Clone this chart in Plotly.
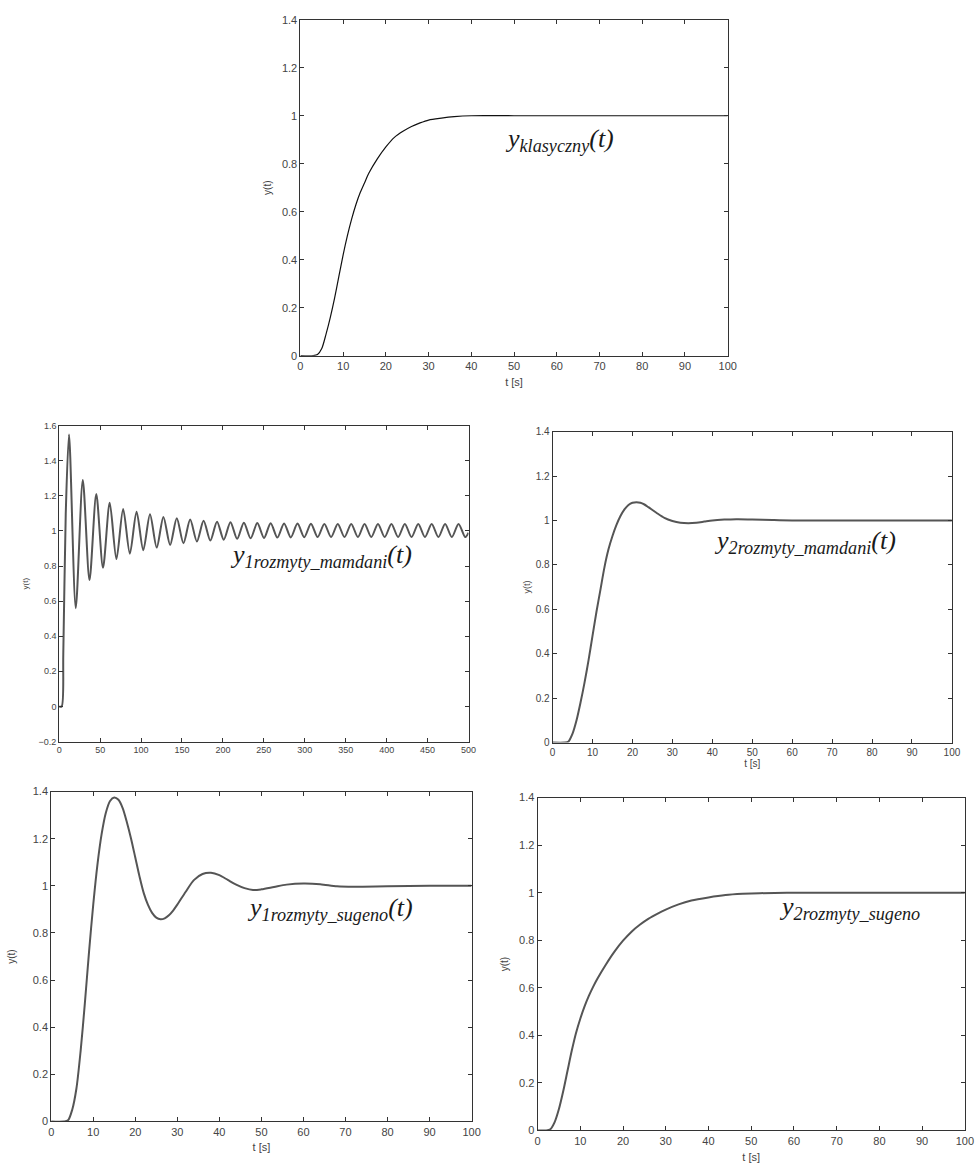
import plotly.graph_objects as go

# ---- data ----
t_klas = [0, 3, 4, 5, 6, 7, 8, 9, 10, 11, 12, 13, 14, 15, 16, 18, 20, 22, 24, 26, 28, 30, 33, 36, 40, 50, 100]
y_klas = [0, 0, 0.005, 0.03, 0.09, 0.16, 0.24, 0.33, 0.42, 0.5, 0.57, 0.63, 0.68, 0.72, 0.76, 0.82, 0.87, 0.91,
          0.935, 0.955, 0.97, 0.982, 0.99, 0.996, 1.0, 1.0, 1.0]

t_m1 = [0, 3, 5, 8, 12, 20.2, 28.8, 37, 45.3, 53.5, 61.7, 69.9, 78.1, 86.3, 94.5, 102.7, 110.9, 119.1, 127.3, 135.5,
        143.6, 151.8, 160, 168.2, 176.4, 184.6, 192.8, 201, 209.2, 217.4, 225.6, 233.8, 242, 250.2, 258.3, 266.5,
        274.7, 282.9, 291.1, 299.3, 307.5, 315.7, 323.9, 332.1, 340.3, 348.5, 356.7, 364.9, 373, 381.2, 389.4, 397.6,
        405.8, 414, 422.2, 430.4, 438.6, 446.8, 455, 463.2, 471.4, 479.6, 487.8, 496, 500]
y_m1 = [0, 0, 0.3, 1.1, 1.55, 0.56, 1.29, 0.72, 1.21, 0.79, 1.16, 0.84, 1.125, 0.87, 1.11, 0.89, 1.095, 0.905, 1.08,
        0.92, 1.072, 0.93, 1.065, 0.94, 1.058, 0.945, 1.053, 0.95, 1.05, 0.955, 1.047, 0.958, 1.045, 0.96, 1.044,
        0.962, 1.043, 0.963, 1.042, 0.964, 1.041, 0.965, 1.04, 0.965, 1.04, 0.965, 1.04, 0.965, 1.04, 0.965, 1.04,
        0.965, 1.04, 0.965, 1.04, 0.965, 1.04, 0.965, 1.04, 0.965, 1.04, 0.965, 1.04, 0.965, 0.99]

t_m2 = [0, 3, 4, 5, 6, 7, 8, 9, 10, 11, 12, 13, 14, 15, 16, 17, 18, 19, 20, 21, 22, 23, 24, 26, 28, 30, 32, 34, 36,
        38, 40, 43, 46, 50, 55, 60, 100]
y_m2 = [0, 0, 0.005, 0.04, 0.1, 0.18, 0.27, 0.37, 0.48, 0.59, 0.69, 0.79, 0.87, 0.93, 0.98, 1.02, 1.05, 1.07, 1.08,
        1.082, 1.08, 1.072, 1.06, 1.035, 1.012, 0.998, 0.99, 0.988, 0.99, 0.995, 1.0, 1.004, 1.006, 1.005, 1.002,
        1.0, 1.0]

t_s1 = [0, 3, 4, 5, 6, 7, 8, 9, 10, 11, 12, 13, 14, 15, 16, 17, 18, 19, 20, 21, 22, 23, 24, 25, 26, 27, 28, 29, 30,
        32, 34, 36, 38, 40, 42, 44, 46, 48, 50, 53, 56, 60, 64, 68, 72, 80, 90, 100]
y_s1 = [0, 0, 0.005, 0.05, 0.14, 0.3, 0.5, 0.72, 0.92, 1.09, 1.22, 1.31, 1.36, 1.375, 1.365, 1.33, 1.27, 1.2, 1.12,
        1.04, 0.97, 0.92, 0.885, 0.865, 0.858, 0.862, 0.875, 0.895, 0.92, 0.975, 1.025, 1.05, 1.055, 1.045, 1.025,
        1.005, 0.99, 0.982, 0.985, 0.995, 1.005, 1.01, 1.007, 0.998, 0.996, 0.998, 1.0, 1.0]

t_s2 = [0, 2, 3, 4, 5, 6, 7, 8, 9, 10, 11, 12, 13, 14, 16, 18, 20, 22, 24, 26, 28, 30, 33, 36, 40, 44, 48, 52, 60, 100]
y_s2 = [0, 0, 0.005, 0.035, 0.09, 0.165, 0.25, 0.335, 0.41, 0.47, 0.522, 0.566, 0.604, 0.638, 0.698, 0.752, 0.798,
        0.836, 0.866, 0.891, 0.911, 0.929, 0.951, 0.967, 0.98, 0.99, 0.995, 0.998, 1.0, 1.0]

labels = ["y<sub>klasyczny</sub>(t)", "y<sub>1rozmyty_mamdani</sub>(t)", "y<sub>2rozmyty_mamdani</sub>(t)",
          "y<sub>1rozmyty_sugeno</sub>(t)", "y<sub>2rozmyty_sugeno</sub>"]
label_pos = [(47.3, 0.90), (206, 0.86), (40, 0.905), (46, 0.90), (56, 0.937)]

W, H = 978, 1165
# plot boxes in pixels: (left, right, top, bottom)
boxes = [(301.1, 733.7, 13.9, 353.3), (56.9, 471.3, 424.0, 743.2), (556.4, 960.7, 430.1, 744.2),
         (48.8, 474.4, 793.7, 1127.1), (541.2, 973.8, 799.8, 1136.2)]
xr = [[0, 100], [0, 500], [0, 100], [0, 100], [0, 100]]
yr = [[0, 1.4], [-0.2, 1.6], [0, 1.4], [0, 1.4], [0, 1.4]]
xdt = [10, 50, 10, 10, 10]
tick_sz = [11, 9, 10, 11, 11]
show_xt = [True, False, True, True, True]
x_standoff = [7, 4, 3, 6, 7]
y_standoff = [8, 8, 3, 15, 8]

series = [(t_klas, y_klas, "#111", 1.2), (t_m1, y_m1, "#555", 2), (t_m2, y_m2, "#555", 2),
          (t_s1, y_s1, "#555", 2), (t_s2, y_s2, "#555", 2)]

SERIF = "Liberation Serif, Times New Roman, DejaVu Serif, serif"

fig = go.Figure()
layout = dict(width=W, height=H, margin=dict(l=0, r=0, t=0, b=0), autosize=False,
              paper_bgcolor="white", plot_bgcolor="white", showlegend=False)
annos = []
for i, ((tx, ty, col, lw), (l, r, tp, bt)) in enumerate(zip(series, boxes)):
    k = "" if i == 0 else str(i + 1)
    fig.add_trace(go.Scatter(x=tx, y=ty, mode="lines", xaxis="x" + k, yaxis="y" + k,
                             line=dict(color=col, width=lw, shape="spline", smoothing=0.8)))
    ax = dict(domain=[l / W, r / W], range=xr[i], dtick=xdt[i], tick0=0, showgrid=False, zeroline=False,
              showline=True, linecolor="#333", linewidth=1, mirror="ticks", ticks="inside", ticklen=4,
              tickcolor="#333", tickfont=dict(family="Liberation Sans, Arial", size=tick_sz[i], color="#444"),
              anchor="y" + k)
    if show_xt[i]:
        ax["title"] = dict(text="t [s]", standoff=x_standoff[i],
                           font=dict(family="Liberation Sans, Arial", size=tick_sz[i], color="#444"))
    ay = dict(domain=[1 - bt / H, 1 - tp / H], range=yr[i], dtick=0.2, tick0=0, showgrid=False, zeroline=False,
              showline=True, linecolor="#333", linewidth=1, mirror="ticks", ticks="inside", ticklen=4,
              tickcolor="#333", tickfont=dict(family="Liberation Sans, Arial", size=tick_sz[i], color="#444"),
              anchor="x" + k,
              title=dict(text="y(t)", standoff=y_standoff[i],
                         font=dict(family="Liberation Sans, Arial", size=tick_sz[i] - 1, color="#444")))
    layout["xaxis" + k] = ax
    layout["yaxis" + k] = ay
    annos.append(dict(x=label_pos[i][0], y=label_pos[i][1], xref="x" + k, yref="y" + k,
                      text="<i>" + labels[i] + "</i>",
                      showarrow=False, xanchor="left", yanchor="middle",
                      font=dict(family=SERIF, size=26, color="#1a1a1a")))
layout["annotations"] = annos
fig.update_layout(**layout)
fig.write_html("out.html", config={"displayModeBar": False},
               post_script="document.body.style.margin='0';document.body.style.overflow='hidden';")
